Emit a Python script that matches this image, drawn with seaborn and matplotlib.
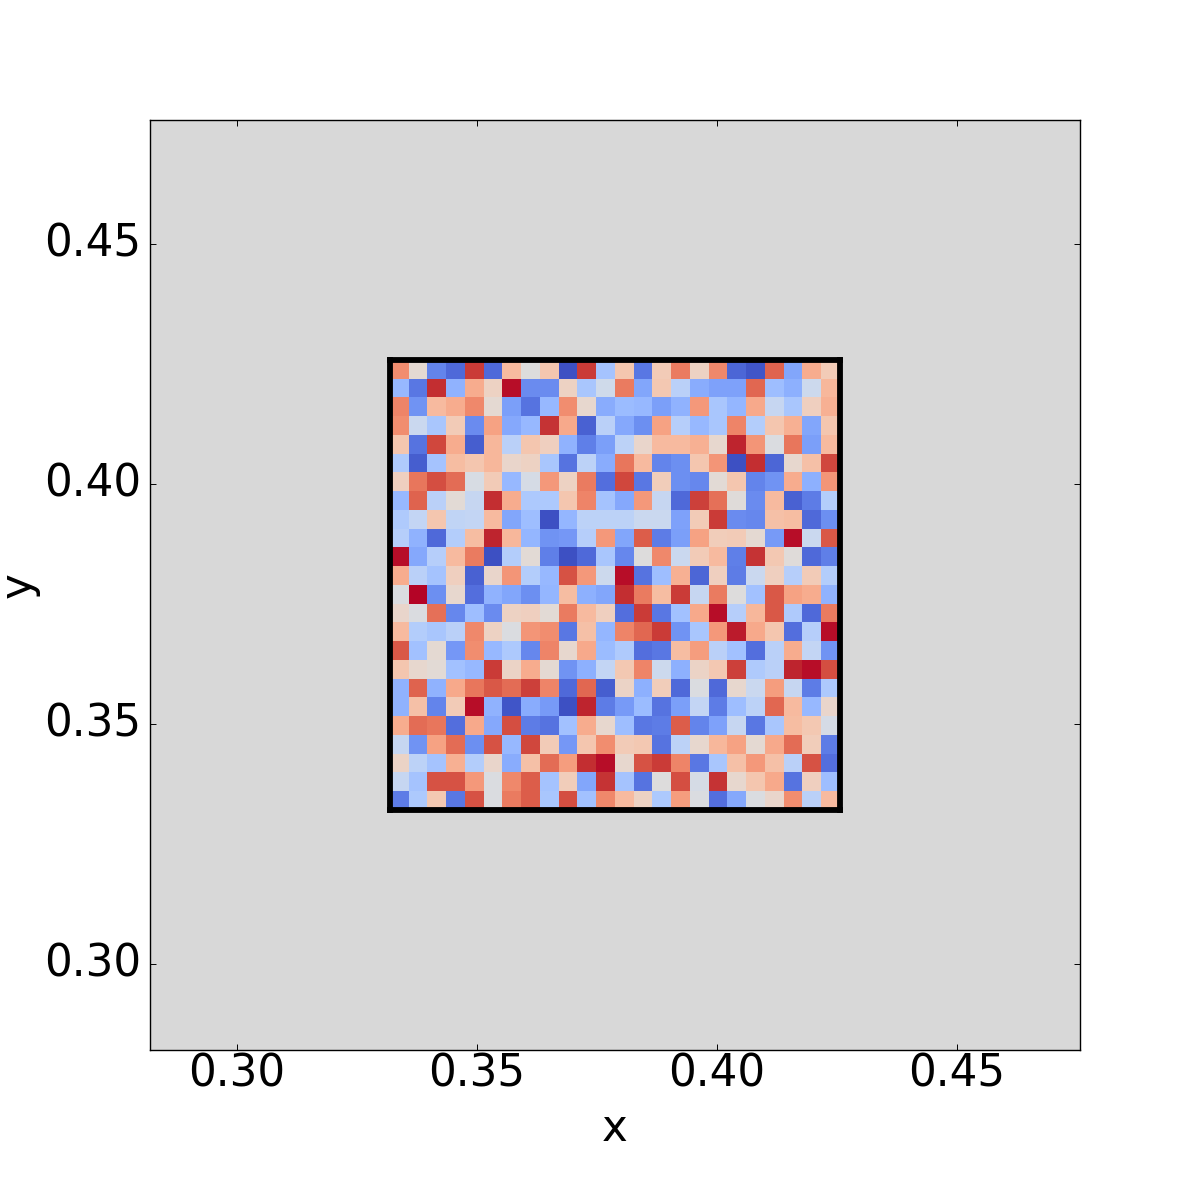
import matplotlib
matplotlib.use("Agg")
import matplotlib.pyplot as plt
from matplotlib.transforms import ScaledTranslation
import seaborn as sns
import numpy as np

cell_values = [
 [.78,.53,.13,.07,.94,.07,.66,.50,.62,.01,.94,.32,.62,.10,.60,.82,.57,.79,.06,.02,.87,.22,.70,.60],
 [.28,.10,.96,.26,.70,.57,.99,.15,.15,.57,.33,.45,.82,.22,.61,.38,.24,.21,.21,.86,.30,.25,.44,.67],
 [.80,.17,.66,.70,.79,.53,.20,.09,.28,.78,.54,.24,.29,.28,.20,.26,.75,.33,.27,.71,.42,.33,.58,.69],
 [.78,.43,.33,.60,.15,.73,.23,.28,.95,.71,.05,.38,.23,.16,.73,.37,.28,.33,.80,.36,.62,.69,.22,.62],
 [.62,.09,.92,.70,.04,.67,.38,.62,.58,.26,.12,.20,.39,.55,.66,.66,.69,.54,.97,.76,.49,.83,.20,.66],
 [.35,.04,.32,.65,.62,.67,.55,.57,.33,.09,.39,.24,.83,.66,.13,.16,.62,.76,.01,.96,.06,.54,.64,.92],
 [.58,.83,.91,.85,.48,.60,.28,.47,.75,.57,.82,.08,.92,.10,.59,.16,.14,.52,.62,.13,.17,.70,.25,.76],
 [.28,.87,.38,.52,.42,.96,.70,.34,.34,.62,.80,.32,.23,.75,.42,.07,.93,.84,.51,.15,.66,.05,.11,.36],
 [.35,.41,.62,.40,.41,.66,.22,.30,.01,.27,.39,.39,.39,.43,.43,.21,.60,.94,.15,.14,.64,.65,.07,.16],
 [.37,.26,.07,.36,.65,.97,.67,.27,.17,.18,.37,.75,.22,.88,.11,.20,.73,.59,.60,.53,.19,.99,.43,.89],
 [.99,.23,.37,.66,.82,.01,.36,.52,.12,.01,.07,.33,.14,.50,.79,.43,.60,.66,.12,.95,.61,.51,.07,.12],
 [.70,.38,.32,.58,.05,.55,.76,.36,.28,.90,.75,.44,.99,.09,.30,.69,.06,.58,.11,.43,.58,.37,.60,.36],
 [.49,1.0,.16,.54,.08,.26,.22,.16,.27,.65,.25,.22,.96,.82,.65,.94,.42,.82,.50,.31,.89,.73,.70,.26],
 [.55,.49,.84,.14,.30,.15,.57,.58,.52,.82,.66,.58,.08,.94,.10,.31,.71,.99,.37,.67,.89,.35,.07,.82],
 [.66,.36,.33,.38,.79,.57,.49,.76,.78,.10,.64,.27,.80,.86,.94,.17,.33,.75,.98,.71,.62,.08,.37,.99],
 [.89,.31,.53,.18,.78,.28,.34,.14,.80,.54,.71,.29,.35,.08,.10,.65,.74,.38,.31,.08,.38,.70,.41,.17],
 [.62,.54,.52,.31,.28,.94,.56,.70,.53,.17,.25,.41,.61,.80,.44,.25,.56,.61,.93,.35,.38,.97,.99,.91],
 [.26,.87,.26,.71,.83,.89,.85,.93,.80,.07,.86,.04,.56,.25,.59,.07,.49,.07,.54,.43,.74,.42,.11,.34],
 [.26,.64,.13,.60,.99,.26,.02,.24,.19,.01,.97,.11,.19,.29,.09,.20,.41,.11,.30,.39,.86,.66,.28,.55],
 [.70,.85,.83,.08,.71,.23,.91,.11,.09,.31,.70,.54,.30,.10,.11,.88,.13,.21,.42,.10,.33,.65,.61,.47],
 [.42,.17,.73,.85,.16,.90,.28,.92,.60,.18,.62,.78,.60,.61,.09,.39,.54,.67,.73,.53,.71,.85,.59,.11],
 [.56,.39,.32,.69,.36,.55,.24,.64,.85,.74,.96,.99,.54,.90,.94,.80,.10,.33,.64,.75,.64,.38,.90,.08],
 [.42,.32,.90,.90,.75,.49,.79,.88,.32,.59,.22,.95,.32,.09,.50,.91,.47,.95,.54,.62,.71,.09,.58,.30],
 [.11,.34,.61,.10,.90,.49,.82,.88,.33,.91,.31,.79,.66,.57,.34,.74,.49,.08,.23,.49,.55,.78,.38,.66],
]
x_ticks = [0.30, 0.35, 0.40, 0.45]
y_ticks = [0.30, 0.35, 0.40, 0.45]

sns.set_theme(style="white", rc={"font.family": "DejaVu Sans"})
fig = plt.figure(figsize=(6, 6), dpi=200)
ax = fig.add_axes([150/1200, 150/1200, 930/1200, 930/1200])
ax.set_facecolor("#d8d8d8")
ax.set_xlim(0.28188, 0.47562)
ax.set_ylim(0.28208, 0.47582)
ax.set_xticks(x_ticks)
ax.set_yticks(y_ticks)
ax.set_xticklabels([f"{v:.2f}" for v in x_ticks])
ax.set_yticklabels([f"{v:.2f}" for v in y_ticks])
ax.tick_params(direction="in", length=2.2, width=0.35, labelsize=15.7, top=True, right=True,
               bottom=True, left=True, colors="black", pad=3.2)
ax.tick_params(axis="x", pad=1.0)
shift_up = ScaledTranslation(0, 4/200, fig.dpi_scale_trans)
for lab in ax.get_yticklabels():
    lab.set_transform(lab.get_transform() + shift_up)
ax.set_xlabel("x", fontsize=15.7, color="black", labelpad=4)
ax.set_ylabel("y", fontsize=15.7, color="black", labelpad=1.5)
for s in ax.spines.values():
    s.set_linewidth(0.5)
    s.set_color("black")

inset = ax.inset_axes([0.33185, 0.33208, 0.09375, 0.09375], transform=ax.transData)
sns.heatmap(np.array(cell_values), ax=inset, cmap="coolwarm", vmin=0, vmax=1,
            cbar=False, xticklabels=False, yticklabels=False, square=False)
for s in inset.spines.values():
    s.set_visible(True)
    s.set_linewidth(2.1)
    s.set_color("black")

fig.savefig("out.png", dpi=200)
